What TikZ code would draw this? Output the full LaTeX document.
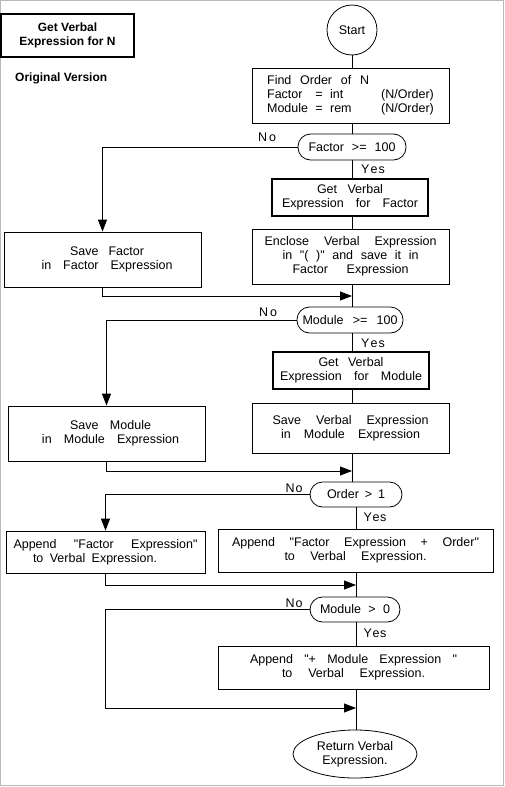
\documentclass[tikz,border=0pt]{standalone}
\usepackage{fontspec}
\setmainfont{Liberation Sans}[Ligatures=TeXOff]
\usetikzlibrary{arrows.meta,shapes.geometric}
\newcommand\sline[2]{\makebox[#1pt][s]{#2}}
\begin{document}
\begin{tikzpicture}[x=1pt,y=-1pt,
  every node/.style={font=\fontsize{12.5}{14}\selectfont},
  box/.style={draw, line width=0.8pt, inner sep=0pt, align=center},
  tbox/.style={box, line width=2.2pt},
  dec/.style={box, rounded corners=12.5pt},
  term/.style={draw, line width=0.8pt, inner sep=0pt, align=center},
  lbl/.style={inner sep=0pt},
  ln/.style={line width=0.8pt},
  arr/.style={line width=0.8pt, -{Triangle[length=12pt,width=9pt]}},
  boldtxt/.style={font=\bfseries\fontsize{12}{14}\selectfont}]
\useasboundingbox (0,0) rectangle (505,787);
\draw[gray!55, line width=1pt] (0.5,0.5) rectangle (503.5,785.5);

% spine coordinates
\coordinate (sA) at (352,0);
\coordinate (sB) at (356,0);

% title
\node[tbox, boldtxt, minimum width=133pt, minimum height=43pt] (title) at (67.5,35.5) {Get Verbal\\Expression for N};
\node[boldtxt, anchor=west, inner sep=0pt] (orig) at (15,78) {Original Version};

% nodes
\node[term, circle, minimum size=50pt] (start) at (352,30) {Start};
\node[box, align=left, minimum width=197pt, minimum height=55pt] (find) at (350.5,95.5)
  {\sline{102}{Find Order of N}\\
   \makebox[45pt][l]{Factor}\makebox[14pt][c]{=}\makebox[55pt][c]{\hspace*{4pt}\makebox[0pt][l]{int}\hfill}(N/Order)\\
   \makebox[45pt][l]{Module}\makebox[14pt][c]{=}\makebox[55pt][c]{\hspace*{4pt}\makebox[0pt][l]{rem}\hfill}(N/Order)};
\node[dec, minimum width=108pt, minimum height=26pt] (dec1) at (352,147) {\sline{87}{Factor >= 100}};
\node[tbox, minimum width=156pt, minimum height=37pt] (gvf) at (350,197.5)
  {\sline{66}{Get Verbal}\\ \sline{136}{Expression for Factor}};
\node[box, minimum width=197pt, minimum height=55pt] (enclose) at (350.5,256.5)
  {\sline{172}{Enclose Verbal Expression}\\ \sline{136}{in "( )" and save it in}\\ \sline{116}{Factor Expression}};
\node[box, minimum width=197pt, minimum height=55pt] (savef) at (102.5,259.5)
  {\hspace*{9pt}\sline{74}{Save Factor}\\ \hspace*{9pt}\sline{131}{in Factor Expression}};
\coordinate (join1) at (352,296);

\node[dec, minimum width=106pt, minimum height=26pt] (dec2) at (350,320) {\sline{95}{Module >= 100}};
\node[tbox, minimum width=156pt, minimum height=37pt] (gvm) at (351,370.5)
  {\sline{65}{Get Verbal}\\ \sline{142}{Expression for Module}};
\node[box, minimum width=197pt, minimum height=50pt] (savev) at (350.5,428)
  {\sline{156}{Save Verbal Expression}\\ \sline{139}{in Module Expression}};
\node[box, minimum width=197pt, minimum height=55pt] (savem) at (106.5,433.5)
  {\hspace*{8pt}\sline{81}{Save Module}\\ \hspace*{8pt}\sline{137}{in Module Expression}};
\coordinate (join2) at (352,471);

\node[dec, minimum width=92pt, minimum height=25pt] (dec3) at (356,494.5) {\sline{58}{Order > 1}};
\node[box, minimum width=199pt, minimum height=42pt] (appf) at (105.5,552)
  {\sline{184}{Append "Factor Expression"}\\ \sline{124}{to Verbal Expression.}\hspace*{21pt}};
\node[box, minimum width=275pt, minimum height=43pt] (appfo) at (355.5,550.5)
  {\sline{247}{Append "Factor Expression + Order"}\\ \sline{142}{to Verbal Expression.}};
\coordinate (join3) at (356,585);

\node[dec, minimum width=90pt, minimum height=25pt] (dec4) at (355,609.5) {\sline{70}{Module > 0}};
\node[box, minimum width=271pt, minimum height=43pt] (appm) at (353.5,667.5)
  {\sline{207}{Append "+ Module Expression "}\\ \sline{143}{to Verbal Expression.}};
\coordinate (bend4) at (105,708);
\coordinate (join4) at (356,708);
\node[term, ellipse, minimum width=124pt, minimum height=48pt] (ret) at (355,754) {Return Verbal\\Expression.};

% labels
\node[lbl] (no1) at (267,137) {N\kern2pt o};
\node[lbl] (yes1) at (373,169) {Y\kern1pt e\kern1pt s};
\node[lbl] (no2) at (268,312) {N\kern2pt o};
\node[lbl] (yes2) at (373,343) {Y\kern1pt e\kern1pt s};
\node[lbl] (no3) at (294,488) {N\kern1pt o};
\node[lbl] (yes3) at (375,517) {Y\kern0.5pt e\kern0.5pt s};
\node[lbl] (no4) at (294,603) {N\kern1pt o};
\node[lbl] (yes4) at (375,633) {Y\kern0.5pt e\kern0.5pt s};

% spine
\draw[ln] (start.south) -- (start.south |- find.north);
\draw[ln] (find.south -| sA) -- (dec1.north -| sA);
\draw[ln] (dec1.south -| sA) -- (gvf.north -| sA);
\draw[ln] (gvf.south -| sA) -- (enclose.north -| sA);
\draw[ln] (enclose.south -| sA) -- (dec2.north -| sA);
\draw[ln] (dec2.south -| sA) -- (gvm.north -| sA);
\draw[ln] (gvm.south -| sA) -- (savev.north -| sA);
\draw[ln] (savev.south -| sA) -- (dec3.north -| sA);
\draw[ln] (dec3.south -| sB) -- (appfo.north -| sB);
\draw[ln] (appfo.south -| sB) -- (dec4.north -| sB);
\draw[ln] (dec4.south -| sB) -- (appm.north -| sB);
\draw[ln] (appm.south -| sB) -- (ret.north -| sB);

% branches
\draw[arr] (dec1.west) -| (savef.north);
\draw[arr] (savef.south) |- (join1);
\draw[arr] (dec2.west) -| (savem.north);
\draw[arr] (savem.south) |- (join2);
\draw[arr] (dec3.west) -| (appf.north);
\draw[arr] (appf.south) |- (join3);
\draw[arr] (dec4.west) -| (bend4) -- (join4);
\end{tikzpicture}
\end{document}
